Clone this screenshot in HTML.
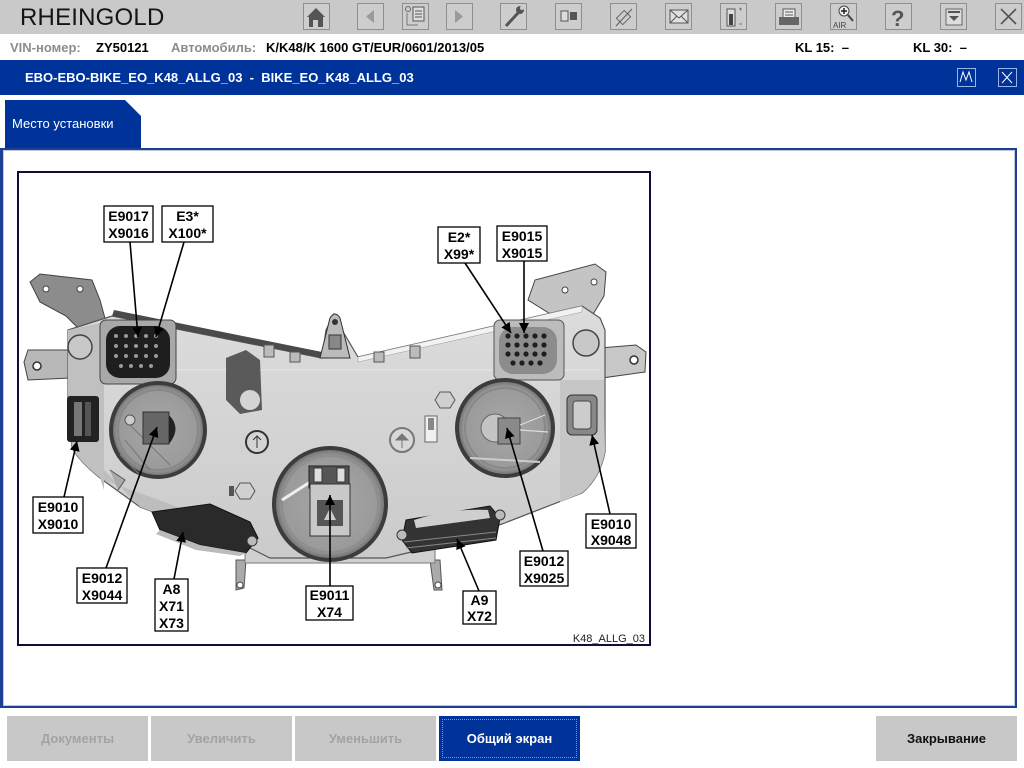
<!DOCTYPE html>
<html><head><meta charset="utf-8">
<style>
*{margin:0;padding:0;box-sizing:border-box}
body{width:1024px;height:768px;overflow:hidden;background:#fff;font-family:"Liberation Sans",Arial,sans-serif;position:relative}
.abs{position:absolute}
#tb{left:0;top:0;width:1024px;height:34px;background:#c9c9c9}
#logo{left:20px;top:4px;font-size:24px;color:#141414;letter-spacing:0.2px}
.btn{position:absolute;top:3px;width:27px;height:27px;border:1px solid #8f8f8f;background:#cdcdcd}
#row2{left:0;top:34px;width:1024px;height:26px;background:#fff;font-size:13px;font-weight:bold}
#row2 span{position:absolute;top:6px;white-space:nowrap}
.g{color:#8c8c8c}
#bar{left:0;top:60px;width:1024px;height:35px;background:#003399}
#bartxt{left:25px;top:70px;color:#fff;font-size:13px;font-weight:bold;white-space:nowrap}
.bico{position:absolute;top:68px;width:19px;height:19px;border:1px solid #9ab4ea}
#panel{left:0;top:148px;width:1017px;height:560px;border:2px solid #1f3f94;border-left-width:3px}
#panel2{left:3px;top:150px;width:1012px;height:556px;border:1px solid #c0c8dc}
.bb{position:absolute;top:716px;height:45px;background:#c8c8c8;color:#a3a3a3;font-size:13px;font-weight:bold;text-align:center;line-height:45px}
</style></head><body>
<div id="tb" class="abs"></div>
<div id="logo" class="abs">RHEINGOLD</div>

<div class="btn" style="left:303px"></div>
<div class="btn" style="left:357px"></div>
<div class="btn" style="left:402px"></div>
<div class="btn" style="left:446px"></div>
<div class="btn" style="left:500px"></div>
<div class="btn" style="left:555px"></div>
<div class="btn" style="left:610px"></div>
<div class="btn" style="left:665px"></div>
<div class="btn" style="left:720px"></div>
<div class="btn" style="left:775px"></div>
<div class="btn" style="left:830px"></div>
<div class="btn" style="left:885px"></div>
<div class="btn" style="left:940px"></div>
<div class="btn" style="left:995px"></div>
<svg class="abs" style="left:0;top:0" width="1024" height="34">
 <path d="M307,17 L316,8 L325,17 L323,17 L323,27 L309,27 L309,17 Z" fill="#555"/>
 <rect x="313" y="20" width="5" height="7" fill="#cdcdcd"/>
 <path d="M374,10 L366,16.5 L374,23 Z" fill="#9a9a9a"/>
 <circle cx="408" cy="9" r="2.5" fill="none" stroke="#666"/>
 <rect x="413" y="7" width="11" height="14" fill="#ddd" stroke="#555"/>
 <path d="M415,11h7M415,14h7M415,17h7" stroke="#555"/>
 <path d="M407,13v12h11" fill="none" stroke="#777"/>
 <path d="M455,10 L463,16.5 L455,23 Z" fill="#9a9a9a"/>
 <path d="M506,26 L518,13" stroke="#555" stroke-width="3"/>
 <circle cx="520" cy="10" r="4" fill="#555"/><circle cx="522" cy="8" r="2" fill="#cdcdcd"/>
 <rect x="561" y="11" width="7" height="10" fill="#ddd" stroke="#555"/>
 <rect x="570" y="12" width="7" height="8" fill="#555"/>
 <path d="M616,26 L632,9" stroke="#666" stroke-width="1.2"/>
 <rect x="619" y="12" width="9" height="11" transform="rotate(45 623.5 17.5)" fill="none" stroke="#666"/>
 <rect x="670" y="10" width="18" height="13" fill="#e0e0e0" stroke="#555"/>
 <path d="M670,10 L679,18 L688,10 M670,23 L677,16 M688,23 L681,16" fill="none" stroke="#555"/>
 <rect x="727" y="9" width="8" height="17" fill="#ddd" stroke="#555"/>
 <rect x="729" y="14" width="4" height="11" fill="#444"/>
 <path d="M739,9h3M740.5,7.5v3M739,24h3" stroke="#777"/>
 <rect x="783" y="9" width="12" height="9" fill="#eee" stroke="#555"/>
 <rect x="779" y="17" width="20" height="8" fill="#666"/>
 <path d="M785,12h8M785,15h8" stroke="#555"/>
 <circle cx="844" cy="11" r="5" fill="#eee" stroke="#444"/>
 <path d="M844,8v6M841,11h6" stroke="#222" stroke-width="1.5"/>
 <path d="M848,15 L853,21" stroke="#444" stroke-width="2"/>
 <text x="833" y="28" font-size="8" font-family="Liberation Sans" fill="#444">AIR</text>
 <text x="891" y="26" font-size="22" font-weight="bold" font-family="Liberation Sans" fill="#555">?</text>
 <rect x="946" y="9" width="16" height="16" fill="#ddd" stroke="#666"/>
 <path d="M948,12h12" stroke="#555" stroke-width="2"/>
 <path d="M949,16 L959,16 L954,21 Z" fill="#555"/>
 <path d="M1001,9 L1016,24 M1016,9 L1001,24" stroke="#555" stroke-width="1.6"/>
</svg>

<div id="row2" class="abs">
 <span class="g" style="left:10px">VIN-номер:</span>
 <span style="left:96px">ZY50121</span>
 <span class="g" style="left:171px">Автомобиль:</span>
 <span style="left:266px">K/K48/K 1600 GT/EUR/0601/2013/05</span>
 <span style="left:795px">KL 15:&nbsp; –</span>
 <span style="left:913px">KL 30:&nbsp; –</span>
</div>

<div id="bar" class="abs"></div>
<div id="bartxt" class="abs">EBO-EBO-BIKE_EO_K48_ALLG_03&nbsp; - &nbsp;BIKE_EO_K48_ALLG_03</div>
<div class="bico" style="left:957px"></div>
<div class="bico" style="left:998px"></div>
<svg class="abs" style="left:0;top:60px" width="1024" height="35">
 <path d="M960,22 L963,12 L966,20 L969,12 L972,22" fill="none" stroke="#fff" stroke-width="1"/>
 <path d="M1002,12 L1012,23 M1012,12 L1002,23" stroke="#fff" stroke-width="1"/>
</svg>

<svg class="abs" style="left:0;top:95px" width="160" height="56">
 <path d="M5,5 L125,5 L141,21 L141,56 L5,56 Z" fill="#003399"/>
</svg>
<div class="abs" style="left:12px;top:116px;color:#fff;font-size:13px">Место установки</div>

<div id="panel" class="abs"></div>
<div id="panel2" class="abs"></div>

<svg class="abs" style="left:0;top:0" width="1024" height="768">
 <defs>
  <marker id="ah" viewBox="0 0 10 10" refX="10" refY="5" markerWidth="10" markerHeight="10" markerUnits="userSpaceOnUse" orient="auto">
   <path d="M0,0 L10,5 L0,10 Z" fill="#000"/>
  </marker>
  <linearGradient id="body" x1="0" y1="0" x2="0" y2="1">
   <stop offset="0" stop-color="#dcdcdc"/><stop offset="1" stop-color="#cbcbcb"/>
  </linearGradient>
  <radialGradient id="lamp" cx="0.5" cy="0.5" r="0.5">
   <stop offset="0" stop-color="#a8a8a8"/><stop offset="0.85" stop-color="#9a9a9a"/><stop offset="1" stop-color="#6a6a6a"/>
  </radialGradient>
 </defs>
 <rect x="18" y="172" width="632" height="473" fill="#fff" stroke="#0e0e3c" stroke-width="2"/>

 <path d="M30,282 L40,274 L92,280 L100,300 L106,322 L80,330 L66,316 L40,302 Z" fill="#8c8c8c" stroke="#444" stroke-width="1"/>
 <circle cx="46" cy="289" r="3" fill="#fff" stroke="#444"/>
 <circle cx="80" cy="289" r="3" fill="#fff" stroke="#444"/>
 <path d="M24,362 L28,350 L68,350 L70,378 L28,380 Z" fill="#b8b8b8" stroke="#444"/>
 <circle cx="37" cy="366" r="4" fill="#fff" stroke="#333" stroke-width="1.5"/>
 <path d="M528,300 L535,280 L595,264 L606,272 L604,296 L592,316 L560,320 Z" fill="#c4c4c4" stroke="#444"/>
 <circle cx="565" cy="290" r="3" fill="#fff" stroke="#444"/>
 <circle cx="594" cy="282" r="3" fill="#fff" stroke="#444"/>
 <path d="M600,348 L636,345 L646,352 L645,372 L602,378 Z" fill="#c8c8c8" stroke="#444"/>
 <circle cx="634" cy="360" r="4" fill="#fff" stroke="#333" stroke-width="1.5"/>
 <path d="M236,560 L246,560 L244,588 L236,590 Z" fill="#aaa" stroke="#555"/>
 <circle cx="240" cy="585" r="3" fill="#fff" stroke="#444"/>
 <path d="M430,560 L440,560 L442,590 L434,590 Z" fill="#aaa" stroke="#555"/>
 <circle cx="438" cy="585" r="3" fill="#fff" stroke="#444"/>
 <rect x="245" y="545" width="190" height="18" fill="#d0d0d0" stroke="#777"/>

 <path d="M68,330 L112,316 L322,358 L326,330 L334,314 L342,330 L358,357 L582,306 L600,318 L605,330 L605,452 Q600,478 582,493 L502,524 L420,550 L386,558 L270,558 L250,548 L140,507 L100,478 Q80,462 72,448 L68,400 Z" fill="url(#body)" stroke="#555" stroke-width="1.2"/>
 <path d="M68,330 L104,322 L104,490 L100,478 Q80,462 72,448 L68,400 Z" fill="#c0c0c0"/>
 <path d="M560,380 L604,380 L605,452 Q600,478 582,493 L560,502 Z" fill="#c6c6c6"/>
 <path d="M104,470 L140,507 L200,530 L200,515 L104,480 Z" fill="#bdbdbd"/>
 <path d="M112,316 L322,358 L322,352 L114,310 Z" fill="#4a4a4a"/>
 <path d="M358,357 L582,306 L582,312 L358,362 Z" fill="#f2f2f2" stroke="#999" stroke-width="0.5"/>
 <path d="M120,370 L600,370" stroke="#e6e6e6" stroke-width="2" opacity="0.6"/>
 <path d="M320,358 L330,318 Q335,310 340,318 L350,358 Z" fill="#bbb" stroke="#333"/>
 <circle cx="335" cy="322" r="3" fill="#333"/>
 <rect x="329" y="335" width="12" height="14" fill="#888" stroke="#333"/>
 <rect x="264" y="345" width="10" height="12" fill="#bbb" stroke="#555"/>
 <rect x="290" y="352" width="10" height="10" fill="#bbb" stroke="#555"/>
 <rect x="374" y="352" width="10" height="10" fill="#bbb" stroke="#555"/>
 <rect x="410" y="346" width="10" height="12" fill="#bbb" stroke="#555"/>

 <circle cx="80" cy="347" r="12" fill="#c8c8c8" stroke="#444" stroke-width="1.5"/>
 <rect x="100" y="320" width="76" height="64" rx="6" fill="#a8a8a8" stroke="#444"/>
 <rect x="106" y="326" width="64" height="52" rx="14" fill="#1e1e1e"/>
 <g fill="#9a9a9a">
  <circle cx="116" cy="336" r="2"/><circle cx="126" cy="336" r="2"/><circle cx="136" cy="336" r="2"/><circle cx="146" cy="336" r="2"/><circle cx="156" cy="336" r="2"/>
  <circle cx="116" cy="346" r="2"/><circle cx="126" cy="346" r="2"/><circle cx="136" cy="346" r="2"/><circle cx="146" cy="346" r="2"/><circle cx="156" cy="346" r="2"/>
  <circle cx="116" cy="356" r="2"/><circle cx="126" cy="356" r="2"/><circle cx="136" cy="356" r="2"/><circle cx="146" cy="356" r="2"/><circle cx="156" cy="356" r="2"/>
  <circle cx="121" cy="366" r="2"/><circle cx="131" cy="366" r="2"/><circle cx="141" cy="366" r="2"/><circle cx="151" cy="366" r="2"/>
 </g>
 <circle cx="586" cy="343" r="13" fill="#c8c8c8" stroke="#444" stroke-width="1.5"/>
 <rect x="494" y="320" width="70" height="60" rx="6" fill="#bcbcbc" stroke="#555"/>
 <rect x="499" y="327" width="58" height="47" rx="14" fill="#8c8c8c"/>
 <g fill="#1e1e1e">
  <circle cx="508" cy="336" r="2.6"/><circle cx="517" cy="336" r="2.6"/><circle cx="526" cy="336" r="2.6"/><circle cx="535" cy="336" r="2.6"/><circle cx="544" cy="336" r="2.6"/>
  <circle cx="508" cy="345" r="2.6"/><circle cx="517" cy="345" r="2.6"/><circle cx="526" cy="345" r="2.6"/><circle cx="535" cy="345" r="2.6"/><circle cx="544" cy="345" r="2.6"/>
  <circle cx="508" cy="354" r="2.6"/><circle cx="517" cy="354" r="2.6"/><circle cx="526" cy="354" r="2.6"/><circle cx="535" cy="354" r="2.6"/><circle cx="544" cy="354" r="2.6"/>
  <circle cx="513" cy="363" r="2.6"/><circle cx="522" cy="363" r="2.6"/><circle cx="531" cy="363" r="2.6"/><circle cx="540" cy="363" r="2.6"/>
 </g>

 <path d="M226,358 L246,350 L260,360 L262,410 L240,414 L226,400 Z" fill="#5a5a5a"/>
 <circle cx="250" cy="400" r="10" fill="#d4d4d4"/>

 <rect x="67" y="396" width="32" height="46" rx="3" fill="#222"/>
 <rect x="74" y="402" width="8" height="34" fill="#777"/>
 <rect x="85" y="402" width="6" height="34" fill="#555"/>
 <rect x="567" y="395" width="30" height="40" rx="5" fill="#888" stroke="#333"/>
 <rect x="573" y="401" width="18" height="28" rx="3" fill="#ccc" stroke="#444"/>

 <circle cx="158" cy="430" r="47" fill="url(#lamp)" stroke="#3c3c3c" stroke-width="4"/>
 <circle cx="158" cy="430" r="40" fill="none" stroke="#888" stroke-width="2"/>
 <path d="M125,440 L150,470 M130,425 L170,465 M120,455 L140,475" stroke="#777" stroke-width="1"/>
 <rect x="143" y="412" width="26" height="32" fill="#666" stroke="#333"/>
 <path d="M169,415 Q182,428 169,444" fill="#222"/>
 <circle cx="130" cy="420" r="5" fill="#ccc" stroke="#555"/>

 <circle cx="505" cy="428" r="48" fill="url(#lamp)" stroke="#3c3c3c" stroke-width="4"/>
 <circle cx="505" cy="428" r="40" fill="none" stroke="#888" stroke-width="2"/>
 <circle cx="495" cy="428" r="14" fill="#c4c4c4" stroke="#666"/>
 <rect x="498" y="418" width="22" height="26" fill="#8a8a8a" stroke="#444"/>
 <path d="M520,425 L545,415 M520,430 L548,432" stroke="#ddd" stroke-width="1.2"/>
 <path d="M470,458 L540,462" stroke="#ccc" stroke-width="2"/>

 <circle cx="330" cy="504" r="56" fill="url(#lamp)" stroke="#3c3c3c" stroke-width="4"/>
 <circle cx="330" cy="504" r="48" fill="none" stroke="#8e8e8e" stroke-width="2"/>
 <path d="M282,500 L318,477" stroke="#eee" stroke-width="3"/>
 <rect x="309" y="466" width="40" height="22" fill="#555" stroke="#222"/>
 <rect x="314" y="468" width="8" height="14" fill="#ddd" stroke="#333"/>
 <rect x="337" y="468" width="8" height="14" fill="#ddd" stroke="#333"/>
 <rect x="310" y="484" width="40" height="52" fill="#c8c8c8" stroke="#333"/>
 <rect x="317" y="500" width="26" height="26" fill="#555"/>
 <path d="M324,520 L330,508 L336,520 Z" fill="#ccc"/>

 <circle cx="257" cy="442" r="11" fill="#d4d4d4" stroke="#333" stroke-width="2"/>
 <path d="M257,436 L257,448 M253,440 L257,436 L261,440" stroke="#333" fill="none"/>
 <circle cx="402" cy="440" r="12" fill="#d8d8d8" stroke="#777" stroke-width="2"/>
 <path d="M396,440 L402,434 L408,440 Z M402,440 V448" fill="#777" stroke="#777"/>
 <polygon points="440,392 450,392 455,400 450,408 440,408 435,400" fill="#d0d0d0" stroke="#555"/>
 <polygon points="240,483 250,483 255,491 250,499 240,499 235,491" fill="#d0d0d0" stroke="#555"/>
 <rect x="229" y="486" width="5" height="10" fill="#555"/>
 <rect x="425" y="416" width="12" height="26" fill="#f0f0f0" stroke="#666"/>
 <rect x="428" y="418" width="6" height="12" fill="#888"/>
 <path d="M110,470 L125,480 L118,490" fill="#aaa" stroke="#555"/>

 <path d="M152,512 L210,504 L250,522 L258,538 L246,553 L200,545 L160,530 Z" fill="#2a2a2a" stroke="#111"/>
 <path d="M160,530 L200,545 L246,553 L240,556 L196,550 L156,534 Z" fill="#bbb"/>
 <circle cx="252" cy="541" r="5" fill="#bbb" stroke="#333"/>
 <path d="M406,520 L490,506 L500,518 L496,540 L412,553 L402,540 Z" fill="#333" stroke="#111"/>
 <path d="M414,520 Q450,508 488,510 L490,518 L416,528 Z" fill="#cfcfcf"/>
 <path d="M404,542 L496,532 M406,548 L496,538" stroke="#888" stroke-width="1"/>
 <circle cx="402" cy="535" r="5" fill="#bbb" stroke="#333"/>
 <circle cx="500" cy="515" r="5" fill="#bbb" stroke="#333"/>

 <g stroke="#000" stroke-width="1.6" fill="none" marker-end="url(#ah)">
  <line x1="130" y1="242" x2="138" y2="337"/>
  <line x1="184" y1="242" x2="156" y2="337"/>
  <line x1="465" y1="263" x2="511" y2="333"/>
  <line x1="524" y1="261" x2="524" y2="333"/>
  <line x1="64" y1="497" x2="77" y2="441"/>
  <line x1="106" y1="568" x2="157" y2="427"/>
  <line x1="174" y1="579" x2="183" y2="532"/>
  <line x1="330" y1="586" x2="330" y2="495"/>
  <line x1="479" y1="591" x2="457" y2="539"/>
  <line x1="543" y1="551" x2="507" y2="428"/>
  <line x1="610" y1="514" x2="592" y2="435"/>
 </g>

 <g font-family="Liberation Sans, Arial, sans-serif" font-weight="bold" font-size="14" text-anchor="middle" fill="#000">
  <rect x="104" y="206" width="49" height="36" fill="#fff" stroke="#000" stroke-width="1.3"/>
  <text x="128.5" y="221">E9017</text><text x="128.5" y="238">X9016</text>
  <rect x="162" y="206" width="51" height="36" fill="#fff" stroke="#000" stroke-width="1.3"/>
  <text x="187.5" y="221">E3*</text><text x="187.5" y="238">X100*</text>
  <rect x="438" y="227" width="42" height="36" fill="#fff" stroke="#000" stroke-width="1.3"/>
  <text x="459" y="242">E2*</text><text x="459" y="259">X99*</text>
  <rect x="497" y="226" width="50" height="35" fill="#fff" stroke="#000" stroke-width="1.3"/>
  <text x="522" y="241">E9015</text><text x="522" y="258">X9015</text>
  <rect x="33" y="497" width="50" height="36" fill="#fff" stroke="#000" stroke-width="1.3"/>
  <text x="58" y="512">E9010</text><text x="58" y="529">X9010</text>
  <rect x="77" y="568" width="50" height="35" fill="#fff" stroke="#000" stroke-width="1.3"/>
  <text x="102" y="583">E9012</text><text x="102" y="600">X9044</text>
  <rect x="155" y="579" width="33" height="52" fill="#fff" stroke="#000" stroke-width="1.3"/>
  <text x="171.5" y="594">A8</text><text x="171.5" y="611">X71</text><text x="171.5" y="628">X73</text>
  <rect x="306" y="586" width="47" height="34" fill="#fff" stroke="#000" stroke-width="1.3"/>
  <text x="329.5" y="600">E9011</text><text x="329.5" y="617">X74</text>
  <rect x="463" y="591" width="33" height="33" fill="#fff" stroke="#000" stroke-width="1.3"/>
  <text x="479.5" y="605">A9</text><text x="479.5" y="621">X72</text>
  <rect x="520" y="551" width="48" height="35" fill="#fff" stroke="#000" stroke-width="1.3"/>
  <text x="544" y="566">E9012</text><text x="544" y="583">X9025</text>
  <rect x="586" y="514" width="50" height="34" fill="#fff" stroke="#000" stroke-width="1.3"/>
  <text x="611" y="529">E9010</text><text x="611" y="545">X9048</text>
 </g>
 <text x="645" y="642" text-anchor="end" font-family="Liberation Sans, Arial, sans-serif" font-size="11" fill="#222">K48_ALLG_03</text>
</svg>

<div class="bb" style="left:7px;width:141px">Документы</div>
<div class="bb" style="left:151px;width:141px">Увеличить</div>
<div class="bb" style="left:295px;width:141px">Уменьшить</div>
<div class="bb" style="left:439px;width:141px;background:#003399;color:#fff">Общий экран</div>
<div class="abs" style="left:442px;top:719px;width:135px;height:39px;border:1px dotted #7f95c8"></div>
<div class="bb" style="left:876px;width:141px;color:#111">Закрывание</div>
</body></html>
